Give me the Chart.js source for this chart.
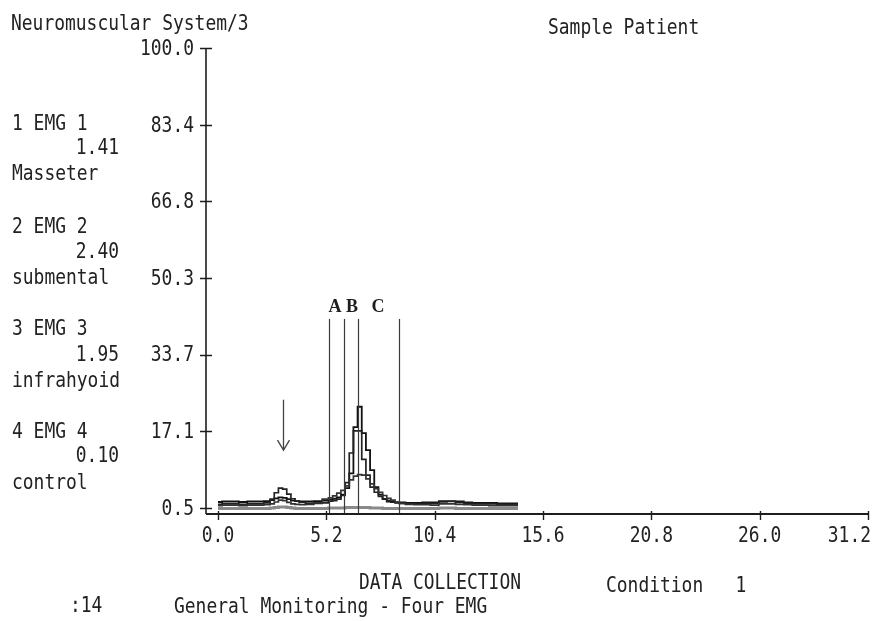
<!DOCTYPE html>
<html>
<head>
<meta charset="utf-8">
<script src="https://cdn.jsdelivr.net/npm/chart.js@4/dist/chart.umd.min.js"></script>
<style>
  html, body { margin: 0; padding: 0; background: #fff; }
  #wrap { width: 882px; height: 621px; position: relative; }
</style>
</head>
<body>
<div id="wrap"><canvas id="c" width="882" height="621"></canvas></div>
<script>
// Sample times (s)
const timeSec = [0.0,0.4,0.8,1.2,1.6,2.0,2.4,
  2.6,2.8,3.0,3.2,3.4,3.6,3.8,4.0,
  4.4,4.8,5.2,
  5.4,5.6,5.8,6.0,6.2,6.4,6.6,6.8,7.0,7.2,7.4,7.6,7.8,8.0,8.2,8.4,8.6,8.8,
  9.2,9.6,10.0,10.4,10.8,11.2,11.6,12.0,12.4,12.8,13.2,13.6,14.0,14.4];

// Channel amplitudes (% of full scale)
const emg1Masseter = [1.0,1.1,1.1,1.0,1.1,1.1,1.2,
  1.4,1.8,2.2,2.1,1.7,1.4,1.3,1.2,
  1.3,1.6,2.4,
  2.7,3.1,3.7,4.3,5.3,6.6,7.4,7.7,7.6,6.8,5.7,4.7,3.9,3.2,2.6,2.2,1.8,1.5,
  1.3,1.2,1.2,1.1,1.4,1.4,1.3,1.2,1.1,1.1,1.0,1.0,1.0,1.0];
const emg2Submental = [1.8,1.9,1.9,1.8,1.9,1.9,2.0,
  2.2,2.6,2.8,2.7,2.4,2.1,2.0,1.9,
  1.9,2.0,2.1,
  2.3,2.5,2.8,3.4,4.8,8.0,18.0,22.4,16.7,13.0,8.7,5.0,3.4,2.4,1.9,1.8,1.7,1.7,
  1.6,1.6,1.7,1.7,2.0,2.0,1.9,1.7,1.6,1.6,1.6,1.5,1.5,1.5];
const emg3Infrahyoid = [1.3,1.4,1.4,1.3,1.4,1.4,1.6,
  2.4,3.8,4.8,4.6,3.5,2.5,2.0,1.7,
  1.5,1.5,1.6,
  2.0,2.1,2.4,3.2,6.0,12.4,17.2,17.2,11.0,7.6,5.0,3.9,3.0,2.5,2.1,1.8,1.6,1.5,
  1.4,1.4,1.5,1.5,1.8,1.9,1.7,1.5,1.4,1.4,1.4,1.3,1.3,1.3];
const emg4Control = [0.4,0.4,0.4,0.4,0.4,0.4,0.4,
  0.5,0.6,0.7,0.7,0.6,0.5,0.4,0.4,
  0.4,0.4,0.4,
  0.5,0.5,0.5,0.5,0.6,0.6,0.6,0.6,0.6,0.6,0.5,0.5,0.5,0.4,0.4,0.4,0.4,0.4,
  0.4,0.4,0.4,0.4,0.5,0.5,0.4,0.4,0.4,0.4,0.4,0.4,0.4,0.4];

// Axis ticks
const xTicks = [0.0,5.2,10.4,15.6,20.8,26.0,31.2];
const xTickLabels = ['0.0','5.2','10.4','15.6','20.8','26.0','31.2'];
const yTicks = [0.5,17.1,33.7,50.3,66.8,83.4,100.0];
const yTickLabels = ['0.5','17.1','33.7','50.3','66.8','83.4','100.0'];

// Channel legend
const channelNames = ['1 EMG 1','2 EMG 2','3 EMG 3','4 EMG 4'];
const channelGains = ['1.41','2.40','1.95','0.10'];
const channelSites = ['Masseter','submental','infrahyoid','control'];

// Event cursors and interval labels
const cursorTimes = [5.33,6.05,6.72,8.69];
const cursorTop = 41.4;
const intervalLabels = ['A','B','C'];
const intervalLabelTimes = [5.62,6.43,7.68];
const intervalLabelLevel = 43.8;

// Arrow marking the early burst
const arrowTime = 3.1;
const arrowFrom = 23.9;
const arrowTo = 13.0;

// Header / footer text
const titleText = 'Neuromuscular System/3';
const patientText = 'Sample Patient';
const modeText = 'DATA COLLECTION';
const conditionText = 'Condition   1';
const screenText = ':14';
const protocolText = 'General Monitoring - Four EMG';

// Tall, narrow terminal-style lettering: 20.5px mono squeezed horizontally
const MONO = '20.5px "DejaVu Sans Mono", "Liberation Mono", monospace';
const SQUEEZE = 0.875;
const INK = '#222';
const TEXT_DROP = 1.5;

function series(values) {
  return timeSec.map((t, i) => ({ x: t, y: values[i] }));
}

function monoText(ctx, s, x, y, align) {
  ctx.save();
  ctx.translate(x, y + TEXT_DROP);
  ctx.scale(SQUEEZE, 1);
  ctx.font = MONO;
  ctx.fillStyle = INK;
  ctx.textAlign = align || 'left';
  ctx.textBaseline = 'middle';
  ctx.fillText(s, 0, 0);
  ctx.restore();
}

const axesAndText = {
  id: 'axesAndText',
  afterDatasetsDraw(chart) {
    const ctx = chart.ctx;
    const xs = chart.scales.x, ys = chart.scales.y;
    const area = chart.chartArea;
    ctx.save();

    // event cursors
    ctx.strokeStyle = '#3a3a3a';
    ctx.lineWidth = 1.2;
    cursorTimes.forEach(t => {
      const px = Math.round(xs.getPixelForValue(t)) + 0.5;
      ctx.beginPath();
      ctx.moveTo(px, ys.getPixelForValue(cursorTop));
      ctx.lineTo(px, area.bottom);
      ctx.stroke();
    });
    ctx.fillStyle = '#1e1e1e';
    ctx.font = 'bold 18px "Liberation Serif", "DejaVu Serif", serif';
    ctx.textAlign = 'center';
    ctx.textBaseline = 'middle';
    intervalLabels.forEach((s, i) => {
      ctx.fillText(s, xs.getPixelForValue(intervalLabelTimes[i]), ys.getPixelForValue(intervalLabelLevel));
    });

    // arrow
    const ax = Math.round(xs.getPixelForValue(arrowTime)) + 0.5;
    const ay0 = ys.getPixelForValue(arrowFrom), ay1 = ys.getPixelForValue(arrowTo);
    ctx.strokeStyle = '#444';
    ctx.lineWidth = 1.3;
    ctx.beginPath();
    ctx.moveTo(ax, ay0); ctx.lineTo(ax, ay1);
    ctx.moveTo(ax - 6, ay1 - 10); ctx.lineTo(ax, ay1); ctx.lineTo(ax + 6, ay1 - 10);
    ctx.stroke();

    // y axis
    ctx.strokeStyle = '#1e1e1e';
    ctx.lineWidth = 1.6;
    const yx = area.left;
    ctx.beginPath();
    ctx.moveTo(yx, ys.getPixelForValue(100));
    ctx.lineTo(yx, area.bottom);
    ctx.stroke();
    ctx.beginPath();
    yTicks.forEach(v => {
      const py = Math.round(ys.getPixelForValue(v)) + 0.5;
      ctx.moveTo(yx - 6, py); ctx.lineTo(yx + 6, py);
    });
    ctx.stroke();

    // x axis
    ctx.lineWidth = 2;
    ctx.beginPath();
    ctx.moveTo(area.left, area.bottom);
    ctx.lineTo(area.right, area.bottom);
    ctx.stroke();
    ctx.lineWidth = 1.4;
    ctx.beginPath();
    xTicks.forEach(v => {
      const px = Math.round(xs.getPixelForValue(v)) + 0.5;
      ctx.moveTo(px, area.bottom - 3); ctx.lineTo(px, area.bottom + 6);
    });
    ctx.stroke();
    ctx.restore();

    // tick labels
    yTicks.forEach((v, i) => {
      monoText(ctx, yTickLabels[i], yx - 12, ys.getPixelForValue(v), 'right');
    });
    xTicks.forEach((v, i) => {
      const px = xs.getPixelForValue(v);
      if (i === xTicks.length - 1) {
        monoText(ctx, xTickLabels[i], px + 3, area.bottom + 21, 'right');
      } else {
        monoText(ctx, xTickLabels[i], px, area.bottom + 21, 'center');
      }
    });

    // header
    monoText(ctx, titleText, 11, 23);
    monoText(ctx, patientText, 548, 27);

    // channel legend
    const nameY = [123, 226, 328, 431];
    const gainY = [147, 251, 354, 455];
    const siteY = [173, 277, 380, 482];
    channelNames.forEach((s, i) => {
      monoText(ctx, s, 12, nameY[i]);
      monoText(ctx, channelSites[i], 12, siteY[i]);
      monoText(ctx, channelGains[i], 119, gainY[i], 'right');
    });

    // footer
    monoText(ctx, modeText, 359, 582);
    monoText(ctx, conditionText, 606, 585);
    monoText(ctx, screenText, 70, 605);
    monoText(ctx, protocolText, 174, 606);
  }
};

const traceStyle = (color, width) => ({
  borderColor: color,
  borderWidth: width,
  pointRadius: 0,
  fill: false,
  stepped: 'middle',
  tension: 0
});

new Chart(document.getElementById('c'), {
  type: 'line',
  data: {
    datasets: [
      Object.assign({ label: 'EMG 4 control', data: series(emg4Control) }, traceStyle('#8a8a8a', 3)),
      Object.assign({ label: 'EMG 1 Masseter', data: series(emg1Masseter) }, traceStyle('#333', 1.7)),
      Object.assign({ label: 'EMG 3 infrahyoid', data: series(emg3Infrahyoid) }, traceStyle('#222', 1.7)),
      Object.assign({ label: 'EMG 2 submental', data: series(emg2Submental) }, traceStyle('#111', 1.8))
    ]
  },
  options: {
    responsive: false,
    animation: false,
    layout: { padding: { left: 206, right: 14, top: 48, bottom: 107 } },
    plugins: { legend: { display: false }, tooltip: { enabled: false } },
    scales: {
      x: { type: 'linear', min: -0.576, max: 31.2, display: false },
      y: { type: 'linear', min: -0.8, max: 100, display: false }
    }
  },
  plugins: [axesAndText]
});
</script>
</body>
</html>
